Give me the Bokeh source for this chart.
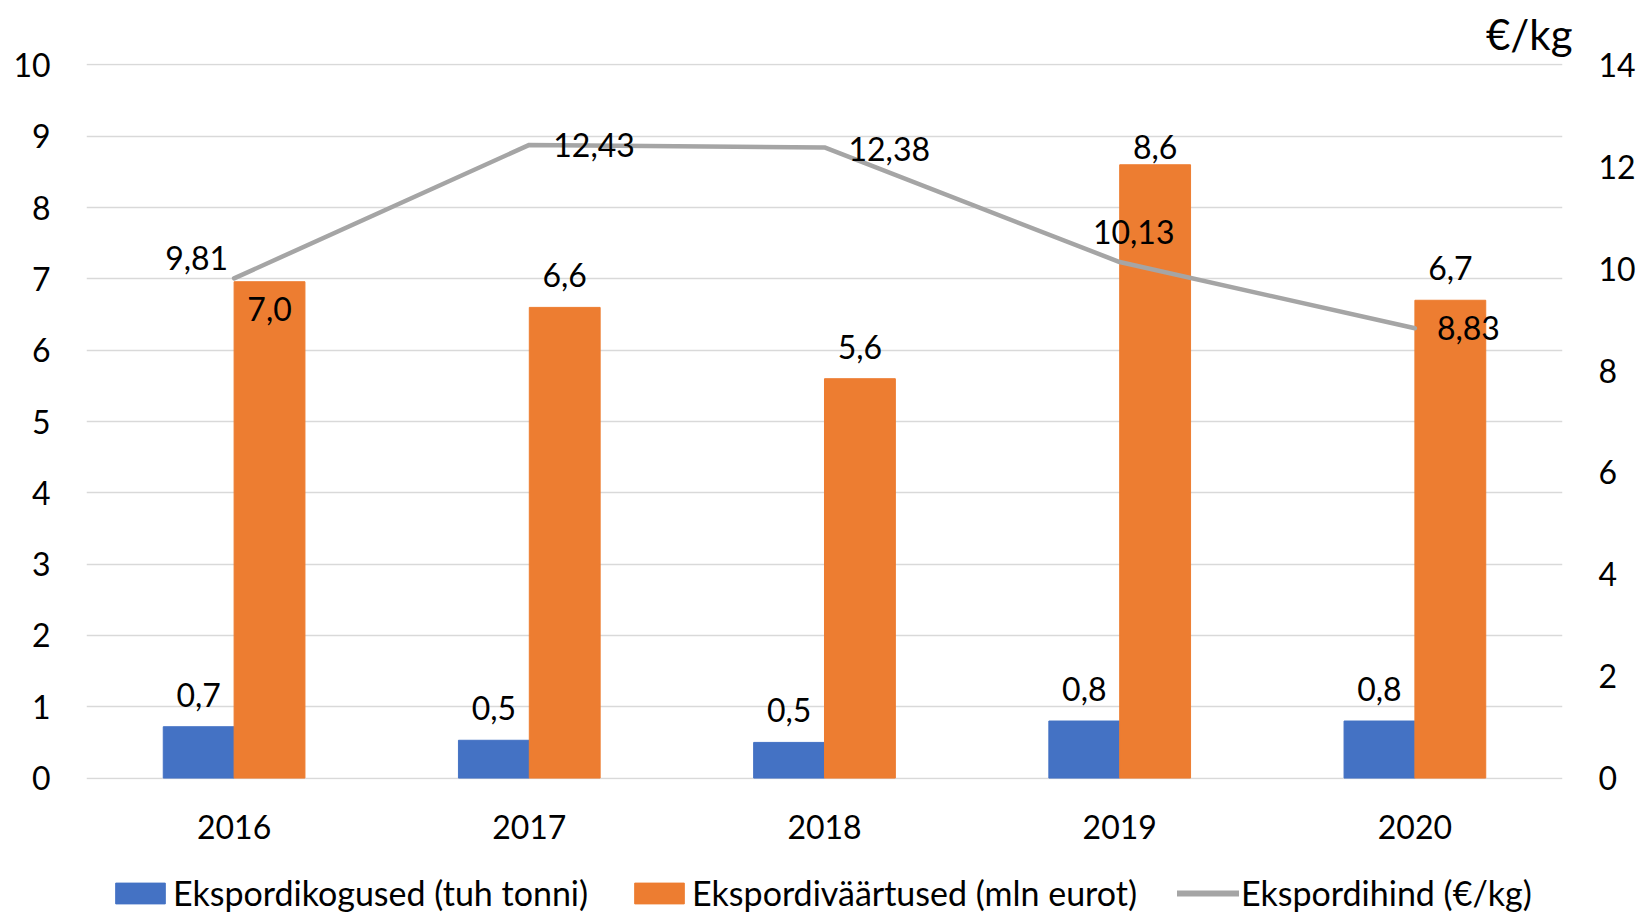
from bokeh.plotting import figure
from bokeh.layouts import column
from bokeh.models import (ColumnDataSource, Range1d, FactorRange, LinearAxis, FixedTicker,
                          Legend, LegendItem)
from bokeh.transform import dodge
from bokeh.core.properties import value
from bokeh.embed import file_html
from bokeh.resources import INLINE

# ---- data ----
years = ["2016", "2017", "2018", "2019", "2020"]
quantity = [0.72, 0.53, 0.50, 0.80, 0.80]          # Ekspordikogused (tuh tonni)
export_value = [6.96, 6.6, 5.6, 8.6, 6.7]           # Ekspordiväärtused (mln eurot)
price = [9.81, 12.43, 12.38, 10.13, 8.83]           # Ekspordihind (€/kg)
left_ticks = [0, 1, 2, 3, 4, 5, 6, 7, 8, 9, 10]
right_ticks = [0, 2, 4, 6, 8, 10, 12, 14]
series_names = ["Ekspordikogused (tuh tonni)", "Ekspordiväärtused (mln eurot)",
                "Ekspordihind (€/kg)"]

# ---- label placement (styling) ----
value_label_dy = [27, -32, -32, -18, -32]
price_label_align = ["right", "left", "left", "center", "left"]
price_label_dx = [-6, 24, 24, 14, 22]
price_label_dy = [-20, 0, 2, -30, 0]

FONT = "Lato"
FS = "32px"
BLUE = "#4472C4"
ORANGE = "#ED7D31"
GREY = "#A5A5A5"
NAN = float("nan")

def fmt1(v):
    return f"{v:.1f}".replace(".", ",")

def fmt2(v):
    return f"{v:.2f}".replace(".", ",")

src = ColumnDataSource(dict(
    year=years, q=quantity, v=export_value, p=price,
    q_lbl=[fmt1(x) for x in quantity],
    v_lbl=[fmt1(x) for x in export_value],
    p_lbl=[fmt2(x) for x in price],
    v_dy=value_label_dy,
    p_align=price_label_align, p_dx=price_label_dx, p_dy=price_label_dy,
))

p = figure(width=1641, height=863, x_range=FactorRange(*years, range_padding=0),
           y_range=Range1d(-0.02, 10.02), output_backend="svg", toolbar_location=None,
           min_border_left=86, min_border_right=79, min_border_top=63, min_border_bottom=84)
p.extra_y_ranges = {"price": Range1d(-0.028, 14.028)}
p.outline_line_color = None
p.background_fill_color = "white"
p.border_fill_color = "white"

# unit title top-right
p.title.text = "€/kg"
p.title.align = "right"
p.title.offset = -10
p.title.standoff = 9
p.title.text_font = FONT
p.title.text_font_size = "42px"
p.title.text_font_style = "normal"
p.title.text_color = "black"

# grid
p.xgrid.grid_line_color = None
p.ygrid.grid_line_color = "#D9D9D9"
p.ygrid.grid_line_width = 1.5
p.ygrid.ticker = FixedTicker(ticks=left_ticks)

# axes
def style_axis(ax):
    ax.axis_line_color = None
    ax.major_tick_line_color = None
    ax.minor_tick_line_color = None
    ax.major_tick_out = 0
    ax.major_tick_in = 0
    ax.minor_tick_out = 0
    ax.minor_tick_in = 0
    ax.major_label_text_font = FONT
    ax.major_label_text_font_size = FS
    ax.major_label_text_color = "black"

style_axis(p.xaxis[0])
style_axis(p.yaxis[0])
p.yaxis[0].ticker = FixedTicker(ticks=left_ticks)
p.yaxis[0].major_label_standoff = 36
p.xaxis[0].major_label_standoff = 35

rax = LinearAxis(y_range_name="price", ticker=FixedTicker(ticks=right_ticks))
style_axis(rax)
rax.major_label_standoff = 36
p.add_layout(rax, "right")

# bars
p.vbar(x=dodge("year", -0.12, range=p.x_range), top="q", width=0.24, bottom=0,
       source=src, fill_color=BLUE, line_color=BLUE)
p.vbar(x=dodge("year", 0.12, range=p.x_range), top="v", width=0.24, bottom=0,
       source=src, fill_color=ORANGE, line_color=ORANGE)

# line
p.line(x="year", y="p", source=src, y_range_name="price", line_color=GREY,
       line_width=4.5, line_join="round", line_cap="round")

# labels
p.text(x=dodge("year", -0.12, range=p.x_range), y="q", text="q_lbl", source=src,
       y_offset=-32, text_align="center", text_baseline="middle",
       text_font=value(FONT), text_font_size=FS, text_color="black")
p.text(x=dodge("year", 0.12, range=p.x_range), y="v", text="v_lbl", source=src,
       y_offset="v_dy", text_align="center", text_baseline="middle",
       text_font=value(FONT), text_font_size=FS, text_color="black")
p.text(x="year", y="p", text="p_lbl", source=src, y_range_name="price",
       x_offset="p_dx", y_offset="p_dy", text_align="p_align", text_baseline="middle",
       text_font=value(FONT), text_font_size=FS, text_color="black")

# ---- legend strip below the chart ----
lg = figure(width=1641, height=50, x_range=Range1d(0, 1), y_range=Range1d(0, 1),
            output_backend="svg", toolbar_location=None, min_border=0,
            x_axis_location=None, y_axis_location=None)
lg.outline_line_color = None
lg.grid.visible = False
# legend proxies (no visible marks)
lr_q = lg.vbar(x=[NAN], top=[NAN], width=0.1, fill_color=BLUE, line_color=BLUE)
lr_v = lg.vbar(x=[NAN], top=[NAN], width=0.1, fill_color=ORANGE, line_color=ORANGE)
lr_p = lg.line(x=[NAN, NAN], y=[NAN, NAN], line_color=GREY, line_width=6, line_cap="round")

legend = Legend(items=[
    LegendItem(label=series_names[0], renderers=[lr_q]),
    LegendItem(label=series_names[1], renderers=[lr_v]),
    LegendItem(label=series_names[2], renderers=[lr_p]),
], orientation="horizontal", location=(23, 0))
legend.label_text_font = FONT
legend.label_text_font_size = "34px"
legend.label_text_color = "black"
legend.glyph_width = 62
legend.glyph_height = 26
legend.label_standoff = 2
legend.spacing = 40
legend.padding = 0
legend.margin = 0
legend.border_line_color = None
legend.background_fill_alpha = 0
lg.add_layout(legend, "center")

layout = column(p, lg, spacing=0)
open("out.html", "w").write(file_html(layout, INLINE))
